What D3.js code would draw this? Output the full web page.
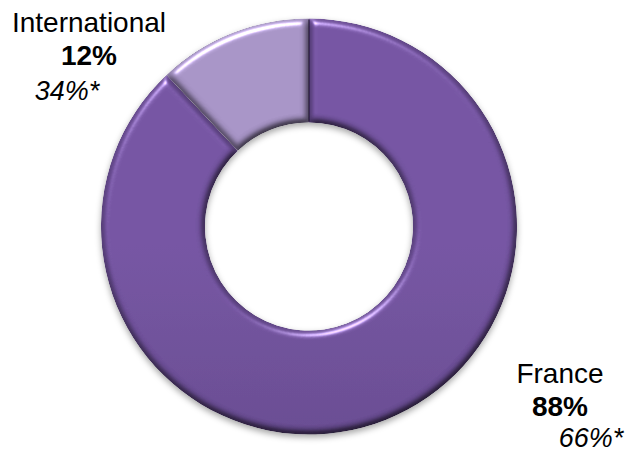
<!DOCTYPE html>
<html>
<head>
<meta charset="utf-8">
<script src="https://cdn.jsdelivr.net/npm/d3@7"></script>
<style>
  html, body { margin: 0; padding: 0; background: #fff; }
  svg { display: block; font-family: "Liberation Sans", Arial, sans-serif; }
</style>
</head>
<body>
<svg id="chart" width="625" height="458"></svg>
<script>
// Revenue split by region
const regions = ["France", "International"];
const shares = [88, 12];          // current share, %
const priorShares = [66, 34];     // comparison share, % (marked *)
const colorsTop = ["#7353a0", "#a592c4"];
const colorsBottom = ["#58407c", "#8672a8"];

const width = 625, height = 458;
const cx = 309, cy = 226.5;
const outerR = 208, innerR = 104;

const svg = d3.select("#chart");
const defs = svg.append("defs");

// vertical shading for each slice
regions.forEach((r, i) => {
  const g = defs.append("linearGradient")
    .attr("id", "grad" + i)
    .attr("gradientUnits", "userSpaceOnUse")
    .attr("x1", 0).attr("y1", cy - outerR)
    .attr("x2", 0).attr("y2", cy + outerR);
  g.append("stop").attr("offset", "0%").attr("stop-color", colorsTop[i]);
  g.append("stop").attr("offset", "100%").attr("stop-color", colorsBottom[i]);
});

// bevelled edge lighting
const bevel = defs.append("filter").attr("id", "bevel")
  .attr("color-interpolation-filters", "sRGB")
  .attr("x", "-10%").attr("y", "-10%").attr("width", "120%").attr("height", "120%");
bevel.append("feGaussianBlur").attr("in", "SourceAlpha").attr("stdDeviation", 3.5).attr("result", "blur");
const spec = bevel.append("feSpecularLighting")
  .attr("in", "blur").attr("surfaceScale", 5).attr("specularConstant", 0.7)
  .attr("specularExponent", 30).attr("lighting-color", "#ffffff").attr("result", "spec");
spec.append("feDistantLight").attr("azimuth", 250).attr("elevation", 35);
bevel.append("feComposite").attr("in", "spec").attr("in2", "SourceAlpha").attr("operator", "in").attr("result", "specIn");
const diff = bevel.append("feDiffuseLighting")
  .attr("in", "blur").attr("surfaceScale", 5).attr("diffuseConstant", 1.0)
  .attr("lighting-color", "#ffffff").attr("result", "diff");
diff.append("feDistantLight").attr("azimuth", 250).attr("elevation", 70);
bevel.append("feComposite").attr("in", "SourceGraphic").attr("in2", "diff")
  .attr("operator", "arithmetic").attr("k1", 1.06).attr("k2", 0).attr("k3", 0).attr("k4", 0).attr("result", "lit");
bevel.append("feComposite").attr("in", "lit").attr("in2", "specIn")
  .attr("operator", "arithmetic").attr("k1", 0).attr("k2", 1).attr("k3", 0.8).attr("k4", 0).attr("result", "out");
bevel.append("feComposite").attr("in", "out").attr("in2", "SourceAlpha").attr("operator", "in");

// soft shadow under the ring
const shadow = defs.append("filter").attr("id", "shadow")
  .attr("x", "-10%").attr("y", "-10%").attr("width", "120%").attr("height", "125%");
shadow.append("feDropShadow").attr("dx", 0).attr("dy", 3).attr("stdDeviation", 3)
  .attr("flood-color", "#000").attr("flood-opacity", 0.35);

const pie = d3.pie().sort(null).value(d => d)(shares);
const arc = d3.arc().innerRadius(innerR).outerRadius(outerR);

const ring = svg.append("g")
  .attr("transform", `translate(${cx},${cy})`)
  .attr("filter", "url(#shadow)");

ring.selectAll("path")
  .data(pie)
  .join("path")
  .attr("d", arc)
  .attr("fill", (d, i) => `url(#grad${i})`)
  .attr("filter", "url(#bevel)");

// seam where the ring starts
ring.append("line")
  .attr("x1", 0).attr("y1", -outerR + 1)
  .attr("x2", 0).attr("y2", -innerR - 1)
  .attr("stroke", "#1e1530").attr("stroke-width", 1.3).attr("stroke-opacity", 0.85);

// labels
const labelPos = [
  { x: 560, y: 383 },   // France
  { x: 89, y: 32 }      // International
];
const priorX = [591, 67];

regions.forEach((r, i) => {
  const p = labelPos[i];
  svg.append("text")
    .attr("x", p.x).attr("y", p.y)
    .attr("text-anchor", "middle")
    .attr("font-size", 28).attr("fill", "#000")
    .text(r);
  svg.append("text")
    .attr("x", p.x).attr("y", p.y + 33)
    .attr("text-anchor", "middle")
    .attr("font-size", 28).attr("font-weight", "bold").attr("fill", "#000")
    .text(shares[i] + "%");
  svg.append("text")
    .attr("x", priorX[i]).attr("y", p.y + (i === 0 ? 64 : 68))
    .attr("text-anchor", "middle")
    .attr("font-size", 27).attr("font-style", "italic").attr("fill", "#000")
    .text(priorShares[i] + "%*");
});
</script>
</body>
</html>
